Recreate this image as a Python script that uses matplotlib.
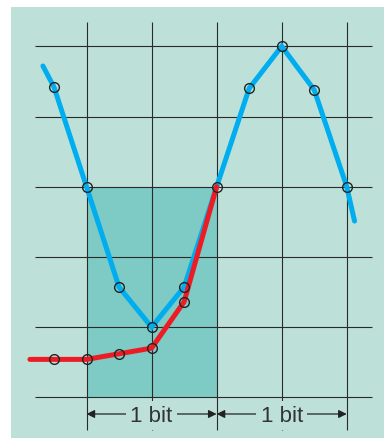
import matplotlib
matplotlib.use("Agg")
import matplotlib.pyplot as plt

# sampled signal (blue) and its bit-interval response (red)
blue_t = [0.5, 1.0, 1.5, 2.0, 2.5, 3.0, 3.5, 4.0, 4.5, 5.0]
blue_v = [4.42, 3.0, 1.57, 1.0, 1.57, 3.0, 4.4, 5.0, 4.38, 3.0]
blue_start = (0.33, 4.72)
blue_end = (5.12, 2.51)

red_t = [0.5, 1.0, 1.5, 2.0, 2.5, 3.0]
red_v = [0.54, 0.54, 0.62, 0.70, 1.36, 3.0]
red_start = (0.13, 0.54)

grid_x = [1, 2, 3, 4, 5]
grid_y = [0, 1, 2, 3, 4, 5]
bit_edges = [1, 3, 5]
bit_label = "1 bit"

bg = "#bde1d9"
shade = "#7ecac5"
blue = "#00aeef"
red = "#ed1c24"

fig = plt.figure(figsize=(3.84, 4.39), dpi=100, facecolor="white")
ax = fig.add_axes([11 / 384, 0, 373 / 384, 431 / 439])
ax.set_facecolor(bg)
ax.set_xlim(-0.1605, 5.5727)
ax.set_ylim(-0.580, 5.560)
ax.axis("off")
ax.add_patch(plt.Rectangle((-0.1605, -0.58), 5.7332, 6.14, color=bg, zorder=0))

# shaded bit window
ax.add_patch(plt.Rectangle((bit_edges[0], grid_y[0]), bit_edges[1] - bit_edges[0],
                           3, color=shade, lw=0, zorder=1))

ax.vlines(grid_x, -0.466, 5.346, color="#2a2a2a", lw=0.8, zorder=2)
ax.hlines(grid_y, 0.205, 5.391, color="#2a2a2a", lw=0.8, zorder=2)

bx = [blue_start[0]] + blue_t + [blue_end[0]]
by = [blue_start[1]] + blue_v + [blue_end[1]]
ax.plot(bx, by, color=blue, lw=3.6, solid_capstyle="round", solid_joinstyle="miter", zorder=3)

rx = [red_start[0]] + red_t
ry = [red_start[1]] + red_v
ax.plot(rx, ry, color=red, lw=3.6, solid_capstyle="round", solid_joinstyle="miter", zorder=4)

ax.plot(blue_t, blue_v, "o", ms=7, mfc="none", mec="#222222", mew=1.0, zorder=5)
ax.plot(red_t[:-1], red_v[:-1], "o", ms=7, mfc="none", mec="#222222", mew=1.0, zorder=5)

ya = -0.238
for a, b in zip(bit_edges[:-1], bit_edges[1:]):
    ax.annotate("", xy=(a, ya), xytext=(b, ya),
                arrowprops=dict(arrowstyle="<|-|>", color="#222222", lw=0.9,
                                mutation_scale=12, shrinkA=0, shrinkB=0), zorder=6)
    ax.text((a + b) / 2, ya - 0.02, bit_label, ha="center", va="center", fontsize=16,
            color="#333333", family=["Liberation Sans", "DejaVu Sans"],
            bbox=dict(facecolor=bg, edgecolor="none", pad=3), zorder=7)

fig.savefig("out.png", dpi=100, facecolor="white")
